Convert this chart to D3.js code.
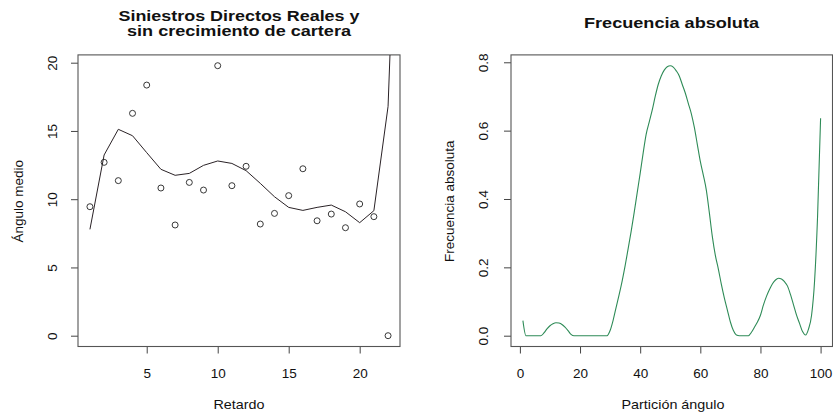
<!DOCTYPE html>
<html><head><meta charset="utf-8">
<script src="https://cdn.jsdelivr.net/npm/d3@7"></script>
<style>
html,body{margin:0;padding:0;background:#fff;}
svg{display:block;font-family:"Liberation Sans",Arial,sans-serif;}
</style></head>
<body>
<svg id="c" width="833" height="412"></svg>
<script>
// ---- Data ----
const retardo = [1,2,3,4,5,6,7,8,9,10,11,12,13,14,15,16,17,18,19,20,21,22];
const anguloMedio = [9.45,12.70,11.36,16.29,18.36,10.82,8.11,11.23,10.67,19.78,10.99,12.41,8.18,8.96,10.26,12.23,8.42,8.91,7.91,9.65,8.72,0];
const suavizadoX = [1,2,3,4,5,6,7,8,9,10,11,12,13,14,15,16,17,18,19,20,21,22,23];
const suavizadoY = [7.79,13.24,15.12,14.65,13.41,12.19,11.75,11.89,12.48,12.80,12.62,12.09,11.16,10.18,9.40,9.18,9.40,9.57,9.08,8.28,9.16,16.8,45];
const xTicksLeft = [5,10,15,20];
const yTicksLeft = [0,5,10,15,20];

const particion = d3.range(1,101);
const frecuencia = [
0.044,0,0,0,0,0,0,0.008,0.02,0.029,
0.035,0.038,0.037,0.033,0.025,0.015,0.004,0,0,0,
0,0,0,0,0,0,0,0,0,0.015,
0.045,0.083,0.12,0.16,0.205,0.255,0.305,0.36,0.418,0.475,
0.535,0.59,0.625,0.66,0.70,0.735,0.76,0.777,0.787,0.79,
0.786,0.775,0.76,0.735,0.71,0.68,0.65,0.61,0.56,0.51,
0.47,0.426,0.36,0.29,0.235,0.195,0.15,0.11,0.075,0.04,
0.015,0.002,0,0,0,0,0.01,0.025,0.04,0.06,
0.09,0.115,0.135,0.152,0.163,0.168,0.166,0.158,0.145,0.12,
0.09,0.06,0.036,0.012,0.002,0.02,0.06,0.16,0.35,0.636];
const xTicksRight = [0,20,40,60,80,100];
const yTicksRight = [0,0.2,0.4,0.6,0.8];
const yTickLabelsRight = ["0.0","0.2","0.4","0.6","0.8"];

// ---- helpers ----
const svg = d3.select("#c");
const ext = (a) => { const [lo,hi] = d3.extent(a); const d = (hi-lo)*0.04; return [lo-d, hi+d]; };
const TOP = 54.9, BOT = 346.5;
const FS = "13.5px";

function panel(opt){
  const x = d3.scaleLinear().domain(ext(opt.xData)).range([opt.left, opt.right]);
  const y = d3.scaleLinear().domain(ext(opt.yData)).range([BOT, TOP]);
  const g = svg.append("g");
  const clipId = "clip" + opt.id;
  svg.append("clipPath").attr("id", clipId).append("rect")
    .attr("x", opt.left).attr("y", TOP).attr("width", opt.right-opt.left).attr("height", BOT-TOP);

  // x axis
  const ax = g.append("g").attr("transform", `translate(0,${BOT})`)
    .call(d3.axisBottom(x).tickValues(opt.xTicks).tickSize(7).tickPadding(6).tickFormat(d3.format("d")));
  ax.select(".domain").remove();
  ax.selectAll("line").attr("stroke","#444");
  ax.selectAll("text").attr("font-size",FS).attr("fill","#111").attr("y",null).attr("dy",null)
    .attr("y", 31);
  // y axis
  const ay = g.append("g").attr("transform", `translate(${opt.left},0)`)
    .call(d3.axisLeft(y).tickValues(opt.yTicks).tickSize(7).tickFormat((d,i)=>opt.yLabels ? opt.yLabels[i] : d));
  ay.select(".domain").remove();
  ay.selectAll("line").attr("stroke","#444");
  ay.selectAll("text").attr("font-size",FS).attr("fill","#111")
    .attr("transform","rotate(-90)").attr("x",0).attr("dy",null)
    .attr("y", opt.yLabOff).attr("text-anchor","middle");

  // box
  g.append("rect").attr("x",opt.left).attr("y",TOP).attr("width",opt.right-opt.left).attr("height",BOT-TOP)
    .attr("fill","none").attr("stroke","#555").attr("stroke-width",1.1);

  // titles
  opt.title.forEach((t,i)=>{
    g.append("text").attr("x",opt.titleX).attr("y",opt.titleY[i]).attr("text-anchor","middle")
      .attr("font-weight","bold").attr("font-size","15.5px").attr("fill","#111")
      .attr("textLength",opt.titleW[i]).attr("lengthAdjust","spacingAndGlyphs").text(t);
  });
  g.append("text").attr("x",(opt.left+opt.xLabX)).attr("y",409).attr("text-anchor","middle")
    .attr("font-size",FS).attr("fill","#111").attr("textLength",opt.xLabW).attr("lengthAdjust","spacingAndGlyphs")
    .text(opt.xLab);
  g.append("text").attr("transform",`translate(${opt.yLabX},${(TOP+BOT)/2 + 0.5}) rotate(-90)`)
    .attr("text-anchor","middle").attr("font-size",FS).attr("fill","#111").text(opt.yLab);
  return {x,y,g,clipId};
}

// ---- Left panel ----
const L = panel({id:"L", left:78, right:400, xData:retardo, yData:anguloMedio,
  xTicks:xTicksLeft, yTicks:yTicksLeft, yLabOff:-21,
  title:["Siniestros Directos Reales y","sin crecimiento de cartera"], titleX:239, titleY:[21,36.3], titleW:[241,224],
  xLab:"Retardo", xLabX:161, xLabW:51, yLab:"Ángulo medio", yLabX:23});

L.g.append("path").datum(suavizadoX.map((d,i)=>[d,suavizadoY[i]]))
  .attr("clip-path",`url(#${L.clipId})`)
  .attr("fill","none").attr("stroke","#2a2226").attr("stroke-width",1)
  .attr("d", d3.line().x(d=>L.x(d[0])).y(d=>L.y(d[1])));

L.g.selectAll("circle.pt").data(retardo).enter().append("circle")
  .attr("cx",(d)=>L.x(d)).attr("cy",(d,i)=>L.y(anguloMedio[i])).attr("r",3)
  .attr("fill","none").attr("stroke","#222").attr("stroke-width",0.9);

// ---- Right panel ----
const R = panel({id:"R", left:511, right:832.5, xData:particion, yData:frecuencia,
  xTicks:xTicksRight, yTicks:yTicksRight, yLabels:yTickLabelsRight, yLabOff:-23,
  title:["Frecuencia absoluta"], titleX:671.5, titleY:[28.3], titleW:[175],
  xLab:"Partición ángulo", xLabX:162, xLabW:103, yLab:"Frecuencia absoluta", yLabX:454});

R.g.append("path").datum(particion.map((d,i)=>[d,frecuencia[i]]))
  .attr("clip-path",`url(#${R.clipId})`)
  .attr("fill","none").attr("stroke","#2e8b57").attr("stroke-width",1.1)
  .attr("d", d3.line().curve(d3.curveMonotoneX).x(d=>R.x(d[0])).y(d=>R.y(d[1])));
</script>
</body></html>
